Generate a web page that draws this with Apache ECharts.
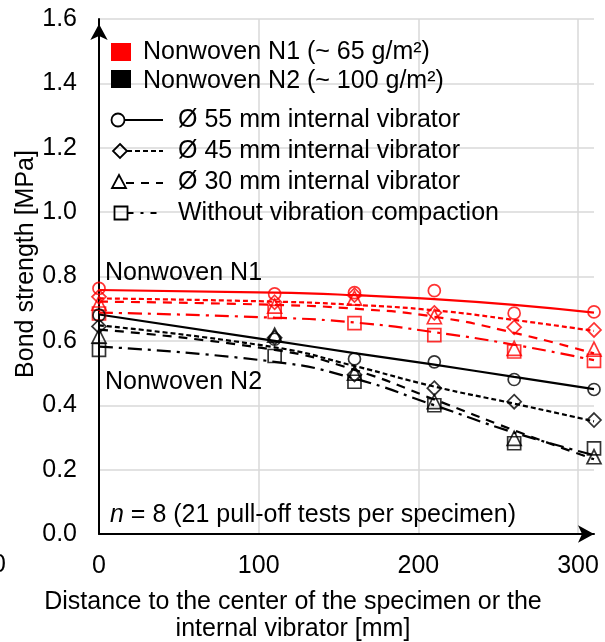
<!DOCTYPE html>
<html>
<head>
<meta charset="utf-8">
<script src="https://cdn.jsdelivr.net/npm/echarts@6/dist/echarts.min.js"></script>
<style>html,body{margin:0;padding:0;background:#fff;}#c{width:605px;height:642px;}</style>
</head>
<body>
<div id="c"></div>
<script>
// ---- data ----
const distances = [0, 110, 160, 210, 260, 310];
const yTicks = [0.0, 0.2, 0.4, 0.6, 0.8, 1.0, 1.2, 1.4, 1.6];
const xTicks = [0, 100, 200, 300];

// measured bond strengths (markers)
const n1_55 = [0.763, 0.746, 0.750, 0.756, 0.686, 0.690];
const n1_45 = [0.737, 0.720, 0.742, 0.687, 0.642, 0.634];
const n1_30 = [0.717, 0.708, 0.733, 0.675, 0.577, 0.574];
const n1_00 = [0.685, 0.690, 0.655, 0.618, 0.567, 0.538];
const n2_55 = [0.680, 0.605, 0.544, 0.535, 0.480, 0.449];
const n2_45 = [0.645, 0.610, 0.495, 0.453, 0.411, 0.354];
const n2_30 = [0.615, 0.618, 0.500, 0.411, 0.297, 0.240];
const n2_00 = [0.572, 0.553, 0.473, 0.400, 0.282, 0.266];

// trend lines (at the same distances)
const t1_55 = [0.758, 0.750, 0.742, 0.730, 0.712, 0.688];
const t1_45 = [0.732, 0.722, 0.712, 0.695, 0.665, 0.631];
const t1_30 = [0.722, 0.712, 0.700, 0.675, 0.625, 0.561];
const t1_00 = [0.688, 0.672, 0.657, 0.627, 0.588, 0.540];
const t2_55 = [0.682, 0.600, 0.562, 0.526, 0.488, 0.450];
const t2_45 = [0.648, 0.580, 0.522, 0.458, 0.405, 0.350];
const t2_30 = [0.635, 0.572, 0.510, 0.418, 0.322, 0.232];
const t2_00 = [0.582, 0.535, 0.483, 0.400, 0.315, 0.245];

const legendLabels = [
  'Nonwoven N1 (~ 65 g/m²)',
  'Nonwoven N2 (~ 100 g/m²)',
  'Ø 55 mm internal vibrator',
  'Ø 45 mm internal vibrator',
  'Ø 30 mm internal vibrator',
  'Without vibration compaction'
];
const xAxisTitle = ['Distance to the center of the specimen or the', 'internal vibrator [mm]'];
const yAxisTitle = 'Bond strength [MPa]';

// ---- styling ----
const FONT = "'Liberation Sans', Arial, sans-serif";
const FS = 25;
const RED = '#ff0000', BLACK = '#000000';
const dashStyles = {
  s55: 'solid',
  s45: [5, 3],
  s30: [9, 7],
  s00: [14, 6, 3, 6]
};
const symbols = { s55: ['circle', 12], s45: ['diamond', 14], s30: ['triangle', 14], s00: ['rect', 13] };

function pairs(vals) { return distances.map((d, i) => [d, vals[i]]); }
function trend(vals, color, dash) {
  return { type: 'line', data: pairs(vals), smooth: true, showSymbol: false, symbol: 'none',
    lineStyle: { color: color, width: 2.2, type: dash }, silent: true, z: 2, clip: false };
}
function marks(vals, color, key) {
  return { type: 'scatter', data: pairs(vals), symbol: symbols[key][0], symbolSize: symbols[key][1],
    itemStyle: { color: 'rgba(0,0,0,0)', borderColor: color, borderWidth: 1.7 }, silent: true, z: 3, clip: false };
}

const series = [
  trend(t1_55, RED, dashStyles.s55), trend(t1_45, RED, dashStyles.s45),
  trend(t1_30, RED, dashStyles.s30), trend(t1_00, RED, dashStyles.s00),
  trend(t2_55, BLACK, dashStyles.s55), trend(t2_45, BLACK, dashStyles.s45),
  trend(t2_30, BLACK, dashStyles.s30), trend(t2_00, BLACK, dashStyles.s00),
  marks(n1_55, RED, 's55'), marks(n1_45, RED, 's45'), marks(n1_30, RED, 's30'), marks(n1_00, RED, 's00'),
  marks(n2_55, BLACK, 's55'), marks(n2_45, BLACK, 's45'), marks(n2_30, BLACK, 's30'), marks(n2_00, BLACK, 's00')
];

function txt(x, y, text, extra) {
  return Object.assign({ type: 'text', x: x, y: y, z: 10,
    style: Object.assign({ text: text, fill: '#000', font: FS + 'px ' + FONT, textAlign: 'left', textVerticalAlign: 'middle' }, extra || {}) });
}
function seg(x1, y, x2, dash) {
  return { type: 'line', z: 10, shape: { x1: x1, y1: y, x2: x2, y2: y },
    style: { stroke: '#000', lineWidth: 2, lineDash: dash === 'solid' ? null : dash } };
}
const legRows = [52, 81, 120, 151, 182, 213];
const graphic = [
  { type: 'rect', z: 10, shape: { x: 111, y: 43, width: 20, height: 18 }, style: { fill: RED } },
  { type: 'rect', z: 10, shape: { x: 111, y: 70, width: 20, height: 18 }, style: { fill: BLACK } },
  txt(143, legRows[0], legendLabels[0]),
  txt(143, legRows[1], legendLabels[1]),
  // 55 mm
  { type: 'circle', z: 10, shape: { cx: 118, cy: legRows[2], r: 6.5 }, style: { fill: 'none', stroke: '#000', lineWidth: 1.8 } },
  seg(124.5, legRows[2], 163, 'solid'),
  txt(178, legRows[2], legendLabels[2]),
  // 45 mm
  { type: 'polygon', z: 10, shape: { points: [[120, legRows[3] - 7], [127, legRows[3]], [120, legRows[3] + 7], [113, legRows[3]]] }, style: { fill: 'none', stroke: '#000', lineWidth: 1.8 } },
  seg(127, legRows[3], 163, dashStyles.s45),
  txt(178, legRows[3], legendLabels[3]),
  // 30 mm
  { type: 'polygon', z: 10, shape: { points: [[119, legRows[4] - 7], [126, legRows[4] + 6], [112, legRows[4] + 6]] }, style: { fill: 'none', stroke: '#000', lineWidth: 1.8 } },
  seg(126, legRows[4] + 1, 163, [8, 7]),
  txt(178, legRows[4], legendLabels[4]),
  // no vibration
  { type: 'rect', z: 10, shape: { x: 114.5, y: legRows[5] - 6.5, width: 13, height: 13 }, style: { fill: 'none', stroke: '#000', lineWidth: 1.8 } },
  seg(127.5, legRows[5], 163, [6, 7, 3, 7]),
  txt(178, legRows[5], legendLabels[5]),
  // annotations
  txt(105, 273, 'Nonwoven N1'),
  txt(105, 382, 'Nonwoven N2'),
  { type: 'text', x: 110, y: 515, z: 10, style: { text: '{i|n} = 8 (21 pull-off tests per specimen)', fill: '#000', font: FS + 'px ' + FONT, textVerticalAlign: 'middle',
      rich: { i: { fontStyle: 'italic', fontSize: FS, fontFamily: FONT, fill: '#000' } } } },
  // axis titles
  txt(293, 602, xAxisTitle[0], { textAlign: 'center' }),
  txt(293, 629, xAxisTitle[1], { textAlign: 'center' }),
  Object.assign(txt(26, 264, yAxisTitle, { textAlign: 'center' }), { rotation: Math.PI / 2 }),
  // partially visible stray label at the left border
  txt(6, 565, '0', { textAlign: 'right' })
];

const chart = echarts.init(document.getElementById('c'), null, { renderer: 'canvas' });
chart.setOption({
  animation: false,
  backgroundColor: '#fff',
  grid: { left: 99, right: 11, top: 19, bottom: 108, containLabel: false },
  xAxis: {
    type: 'value', min: 0, max: 310, interval: 100,
    axisLine: { lineStyle: { color: '#000', width: 2 }, symbol: ['none', 'arrow'], symbolSize: [13, 16], symbolOffset: [0, 0] },
    axisTick: { show: false },
    axisLabel: { color: '#000', fontSize: FS, fontFamily: FONT, margin: 20, showMaxLabel: false,
      formatter: v => (xTicks.indexOf(v) >= 0 ? String(v) : '') },
    splitLine: { show: true, showMaxLine: false, lineStyle: { color: '#d9d9d9', width: 1.5 } }
  },
  yAxis: {
    type: 'value', min: 0, max: 1.6, interval: 0.2,
    axisLine: { show: true, lineStyle: { color: '#000', width: 2 }, symbol: ['none', 'arrow'], symbolSize: [13, 16], symbolOffset: [0, -5] },
    axisTick: { show: false },
    axisLabel: { color: '#000', fontSize: FS, fontFamily: FONT, margin: 22,
      formatter: v => { const t = yTicks.find(k => Math.abs(k - v) < 1e-6); return t === undefined ? '' : t.toFixed(1); } },
    splitLine: { show: true, lineStyle: { color: '#d9d9d9', width: 1.5 } }
  },
  series: series,
  graphic: graphic
});
</script>
</body>
</html>
